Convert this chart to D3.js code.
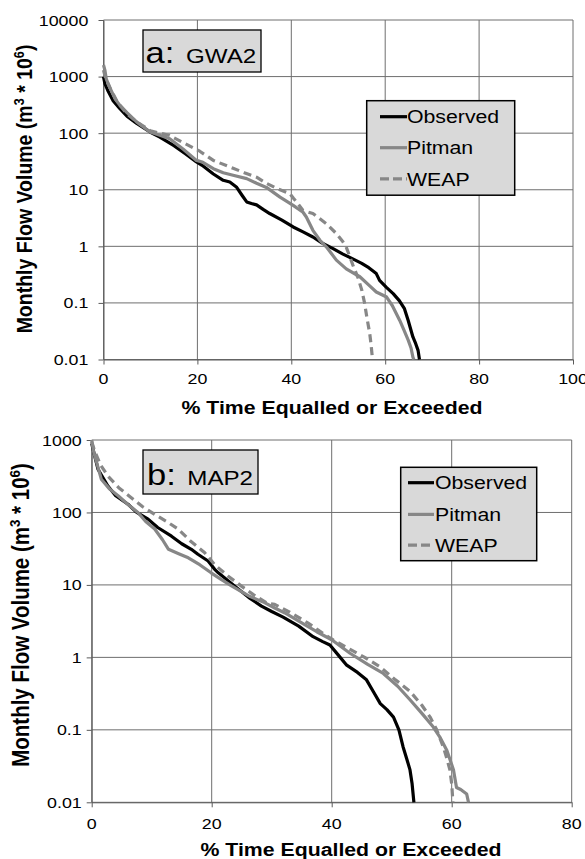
<!DOCTYPE html>
<html>
<head>
<meta charset="utf-8">
<script src="https://cdn.jsdelivr.net/npm/d3@7"></script>
<style>
  body { margin: 0; background: #fff; }
  svg { display: block; font-family: "Liberation Sans", Arial, sans-serif; }
</style>
</head>
<body>
<svg id="chart" width="585" height="859"></svg>
<script>
// flow duration curves: [% time equalled or exceeded, monthly flow volume (m3 * 10^6)]
const gwaObserved = [[0,1000],[0.3,750],[1,550],[2,380],[3.5,270],[5,200],[7,150],[9.9,105],[12,85],[15,60],[17.5,43],[19.8,31],[21,27],[23.4,19],[25.5,14.7],[26.9,13.7],[28.3,11.2],[29.5,8],[30.5,6.1],[31.5,5.7],[32.6,5.4],[34,4.5],[35.4,3.8],[38,2.9],[40.4,2.2],[42.5,1.8],[44.6,1.46],[46.5,1.15],[48.9,0.91],[51,0.73],[53.1,0.6],[55,0.5],[56.5,0.42],[58.1,0.33],[58.8,0.25],[60.2,0.19],[61.7,0.146],[63,0.11],[64.1,0.079],[64.9,0.049],[65.4,0.035],[65.9,0.025],[66.5,0.019],[67,0.0145],[67.3,0.01]];
const gwaPitman = [[0,1600],[0.3,1300],[0.6,900],[1.5,600],[2.5,400],[3.5,310],[5,230],[7,160],[9.9,105],[12,92],[14.1,80],[17,52],[19.8,33],[21,31],[23.4,23.6],[25.5,20],[27.6,18],[30.5,15.7],[32.6,13],[34.7,11],[37.6,7.4],[40.4,5.3],[42.5,4],[43.2,3.3],[44.6,1.92],[46.1,1.28],[47.5,0.97],[49.6,0.57],[51.7,0.4],[54.6,0.29],[56.7,0.2],[58.1,0.156],[60.3,0.127],[61.5,0.09],[63.1,0.049],[64,0.033],[64.9,0.022],[65.5,0.016],[65.9,0.011],[66.1,0.01]];
const gwaWeap = [[0,1300],[0.5,900],[1.5,600],[3,350],[5,220],[7,160],[10,110],[12,100],[14.1,91],[17,68],[20.5,48],[23.4,33],[27.6,24],[30,20],[32.6,16.7],[34.7,13],[37,10.5],[39.7,8.5],[40.5,7],[41.4,5.7],[42.5,4.3],[44.6,3.8],[47.5,2.5],[49.6,1.68],[51,1.2],[51.7,0.97],[53.1,0.47],[54.2,0.28],[55,0.17],[55.6,0.1],[56.1,0.055],[56.7,0.029],[57,0.018],[57.3,0.01]];

const mapObserved = [[0,900],[0.5,600],[1.05,395],[2.7,232],[4,170],[6.05,130],[7.5,100],[9.4,81],[11,62],[13.3,47],[15,37],[16.6,31],[17.7,26.5],[19.4,21.4],[20.5,16.4],[21.1,14.7],[23.8,9.7],[26.4,6.5],[28.3,5.1],[30,4.3],[31.9,3.6],[34.5,2.7],[36.9,1.93],[38.5,1.65],[39.7,1.48],[41,1.1],[42.5,0.78],[44.3,0.62],[45.8,0.49],[47,0.33],[48.1,0.23],[49.2,0.19],[50.3,0.15],[51.2,0.1],[51.9,0.058],[52.5,0.04],[53.05,0.028],[53.4,0.018],[53.7,0.01]];
const mapPitman = [[0,1000],[0.3,700],[1.6,288],[3,210],[4.4,170],[6,130],[7.7,100],[9,75],[10.5,59],[11.8,42],[12.8,31],[14.5,27],[16.1,23.7],[18,19],[19.9,14.7],[21.5,12],[23.3,9.7],[26.4,6.9],[28.8,5.7],[30.5,4.8],[32.2,4.1],[35,3],[37.5,2.26],[40,1.75],[43.05,1.14],[46,0.8],[48.6,0.6],[51,0.4],[53.05,0.26],[55,0.17],[56.9,0.11],[58,0.08],[59.2,0.052],[60.3,0.028],[60.8,0.016],[61.5,0.015],[62.5,0.013],[62.8,0.01]];
const mapWeap = [[0,950],[0.5,700],[1.5,450],[2.7,318],[4.5,220],[6.6,160],[8.5,120],[10.5,94],[12.5,75],[14.4,59],[16.5,40],[18.8,28],[20.5,19],[22.7,13.3],[24.9,9.7],[27,7.3],[29.2,5.6],[30.5,5.4],[33,4.2],[36,3],[38,2.3],[40.3,1.73],[43,1.3],[45.5,1],[48.05,0.74],[50.5,0.5],[53.05,0.34],[55,0.22],[56.4,0.15],[57.5,0.1],[58.6,0.058],[59.2,0.04],[59.7,0.028],[60,0.018],[60.2,0.01]];

const seriesNames = ["Observed", "Pitman", "WEAP"];
const xTicksA = [0, 20, 40, 60, 80, 100];
const xTicksB = [0, 20, 40, 60, 80];
const yTicksA = [0.01, 0.1, 1, 10, 100, 1000, 10000];
const yTicksB = [0.01, 0.1, 1, 10, 100, 1000];
const xTitle = "% Time Equalled or Exceeded";

const SX = 1.15; // figure text looks horizontally stretched
const lineStyle = {
  Observed: { color: "#000", dash: null },
  Pitman: { color: "#878787", dash: null },
  WEAP: { color: "#878787", dash: "8,5" }
};

const panels = [
  {
    tag: "a:", site: "GWA2", data: [gwaObserved, gwaPitman, gwaWeap],
    xTicks: xTicksA, yTicks: yTicksA, xDomain: [0, 100], yDomain: [0.01, 10000],
    left: 103.5, right: 573, top: 20, bottom: 359.5,
    yLabRight: 88.3, xLabBase: 384, xTitleX: 332, xTitleY: 414,
    yTitleX: 32, yTitleY: 189, yTitleSize: 19.5,
    box: { x: 143, y: 30, w: 118, h: 42, base: 63.3, tagX: 145.5, siteX: 186 },
    legend: { x: 366.7, y: 100.7, w: 148, h: 94.5, rows: [123.3, 154.3, 185.5], lx0: 380, lx1: 407, tx: 407 }
  },
  {
    tag: "b:", site: "MAP2", data: [mapObserved, mapPitman, mapWeap],
    xTicks: xTicksB, yTicks: yTicksB, xDomain: [0, 80], yDomain: [0.01, 1000],
    left: 91.7, right: 571.7, top: 440, bottom: 802.3,
    yLabRight: 81.7, xLabBase: 829, xTitleX: 351, xTitleY: 856,
    yTitleX: 28.5, yTitleY: 615, yTitleSize: 20.5,
    box: { x: 143, y: 450, w: 115, h: 44, base: 485.3, tagX: 147, siteX: 187.3 },
    legend: { x: 400.7, y: 467.3, w: 136, h: 93.4, rows: [489.3, 521, 551.7], lx0: 408, lx1: 434, tx: 435 }
  }
];

const svg = d3.select("#chart");
svg.append("rect").attr("width", 585).attr("height", 859).attr("fill", "#fff");

function stext(g, x, y, str, size, anchor, weight) {
  return g.append("text")
    .attr("transform", `translate(${x},${y}) scale(${SX},1)`)
    .attr("text-anchor", anchor || "start")
    .attr("font-size", size)
    .attr("font-weight", weight || "normal")
    .attr("fill", "#000")
    .text(str);
}

function drawPanel(p) {
  const g = svg.append("g");
  const x = d3.scaleLinear().domain(p.xDomain).range([p.left, p.right]);
  const y = d3.scaleLog().domain(p.yDomain).range([p.bottom, p.top]);

  // grid
  g.append("g").selectAll("line").data(p.xTicks).enter().append("line")
    .attr("x1", d => x(d)).attr("x2", d => x(d))
    .attr("y1", p.top).attr("y2", p.bottom)
    .attr("stroke", "#6e6e6e").attr("stroke-width", 1);
  g.append("g").selectAll("line").data(p.yTicks).enter().append("line")
    .attr("x1", p.left).attr("x2", p.right)
    .attr("y1", d => y(d)).attr("y2", d => y(d))
    .attr("stroke", "#6e6e6e").attr("stroke-width", 1);

  // axes (tick marks only, labels drawn below)
  const ya = g.append("g").attr("transform", `translate(${p.left},0)`)
    .call(d3.axisLeft(y).tickValues(p.yTicks).tickSize(5).tickSizeOuter(0).tickFormat(""));
  const xa = g.append("g").attr("transform", `translate(0,${p.bottom})`)
    .call(d3.axisBottom(x).tickValues(p.xTicks).tickSize(5).tickSizeOuter(0).tickFormat(""));
  [ya, xa].forEach(a => a.selectAll("path,line").attr("stroke", "#5a5a5a"));

  p.yTicks.forEach(v => stext(g, p.yLabRight, y(v) + 5.5, d3.format("~g")(v), 15.5, "end"));
  p.xTicks.forEach(v => stext(g, x(v), p.xLabBase, String(v), 15.5, "middle"));

  // series
  const line = d3.line().x(d => x(d[0])).y(d => y(d[1]));
  p.data.forEach((s, i) => {
    const st = lineStyle[seriesNames[i]];
    g.append("path").datum(s)
      .attr("d", line)
      .attr("fill", "none")
      .attr("stroke", st.color)
      .attr("stroke-width", 3.2)
      .attr("stroke-linejoin", "round")
      .attr("stroke-dasharray", st.dash);
  });

  // site box
  const b = p.box;
  g.append("rect").attr("x", b.x).attr("y", b.y).attr("width", b.w).attr("height", b.h)
    .attr("fill", "#d9d9d9").attr("stroke", "#000").attr("stroke-width", 1.3);
  stext(g, b.tagX, b.base, p.tag, 30);
  stext(g, b.siteX, b.base, p.site, 21);

  // legend
  const L = p.legend;
  g.append("rect").attr("x", L.x).attr("y", L.y).attr("width", L.w).attr("height", L.h)
    .attr("fill", "#d9d9d9").attr("stroke", "#000").attr("stroke-width", 1.5);
  seriesNames.forEach((name, i) => {
    const st = lineStyle[name];
    const ly = L.rows[i] - 6.6;
    g.append("line").attr("x1", L.lx0).attr("x2", L.lx1).attr("y1", ly).attr("y2", ly)
      .attr("stroke", st.color).attr("stroke-width", 3.2)
      .attr("stroke-dasharray", st.dash ? "9,4" : null);
    stext(g, L.tx, L.rows[i], name, 18.5);
  });

  // axis titles
  stext(g, p.xTitleX, p.xTitleY, xTitle, 18.5, "middle", "bold");
  const yt = g.append("text")
    .attr("transform", `translate(${p.yTitleX},${p.yTitleY}) rotate(-90) scale(1,${SX})`)
    .attr("text-anchor", "middle")
    .attr("font-size", p.yTitleSize)
    .attr("font-weight", "bold");
  yt.append("tspan").text("Monthly Flow Volume (m");
  yt.append("tspan").attr("dy", -7).attr("font-size", p.yTitleSize * 0.65).text("3");
  yt.append("tspan").attr("dy", 7).text(" * 10");
  yt.append("tspan").attr("dy", -7).attr("font-size", p.yTitleSize * 0.65).text("6");
  yt.append("tspan").attr("dy", 7).text(")");
}

panels.forEach(drawPanel);
</script>
</body>
</html>
